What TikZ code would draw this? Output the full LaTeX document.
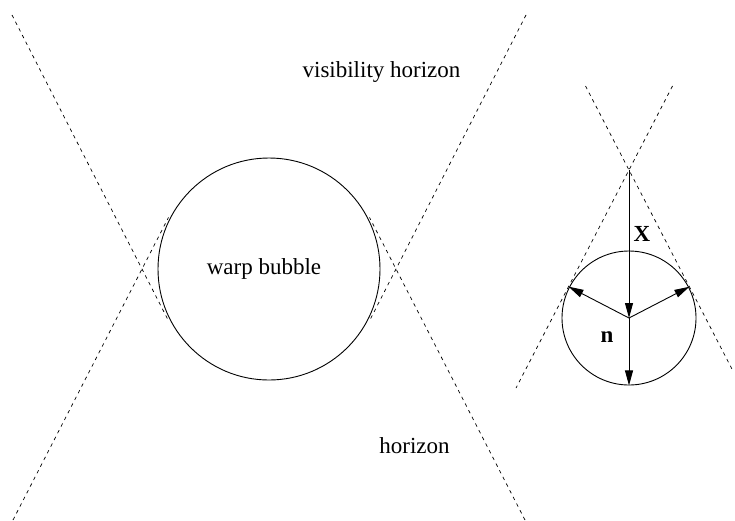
\documentclass[tikz,border=0pt]{standalone}
\usepackage{fontspec}
\setmainfont{Liberation Serif}
\newfontfamily\timesfam{Liberation Serif}
\usetikzlibrary{calc,arrows.meta}
\begin{document}
\begin{tikzpicture}[x=1pt,y=-1pt,
  horiz/.style={dash pattern=on 3.5pt off 4pt, line width=0.7pt},
  bubble/.style={circle, draw, line width=0.9pt, inner sep=0pt},
  vec/.style={line width=0.9pt,-{Triangle[length=15pt,width=8pt]}},
  lbl/.style={inner sep=0pt, anchor=base, font=\timesfam\fontsize{23}{27}\selectfont}]
\useasboundingbox (0,0) rectangle (735,520);
% ---- big bubble and horizons ----
\coordinate (C) at (269,269);
\coordinate (L) at (142,269);
\coordinate (R) at (396,269);
\coordinate (TL) at (12,15);
\coordinate (BL) at (13,520);
\coordinate (TR) at (526,15);
\coordinate (BR) at (525,520);
\coordinate (tTL) at ($(TL)!(C)!(L)$);
\coordinate (tBL) at ($(BL)!(C)!(L)$);
\coordinate (tTR) at ($(TR)!(C)!(R)$);
\coordinate (tBR) at ($(BR)!(C)!(R)$);
\draw[horiz] (TL) -- (tTL);
\draw[horiz] (BL) -- (tBL);
\draw[horiz] (TR) -- (tTR);
\draw[horiz] (BR) -- (tBR);
\node[bubble, minimum size=222pt] (B) at (C) {};
\node[lbl] (wb) at (264,274.3) {warp bubble};
\node[lbl] (vis) at (381.5,77.5) {visibility horizon};
\node[lbl] (hor) at (414.5,453) {horizon};
% ---- small bubble ----
\coordinate (A) at (629,170);
\coordinate (c) at (629,318);
\coordinate (UL) at (585.5,86);
\coordinate (UR) at (672.5,86);
\coordinate (DL) at (516,388);
\coordinate (DR) at (733,371);
\draw[horiz] (UL) -- (DR);
\draw[horiz] (UR) -- (DL);
\coordinate (tl) at ($(A)!(c)!(DL)$);
\coordinate (tr) at ($(A)!(c)!(DR)$);
\node[bubble, minimum size=134pt] (S) at (c) {};
\draw[vec] (A) -- (c);
\draw[vec] (c) -- (S.south);
\draw[vec] (c) -- (tl);
\draw[vec] (c) -- (tr);
\node[lbl, font=\timesfam\fontsize{23}{27}\selectfont\bfseries] (X) at (642,241.7) {X};
\node[lbl, font=\timesfam\fontsize{23}{27}\selectfont\bfseries] (n) at (607,342.7) {n};
\end{tikzpicture}
\end{document}
